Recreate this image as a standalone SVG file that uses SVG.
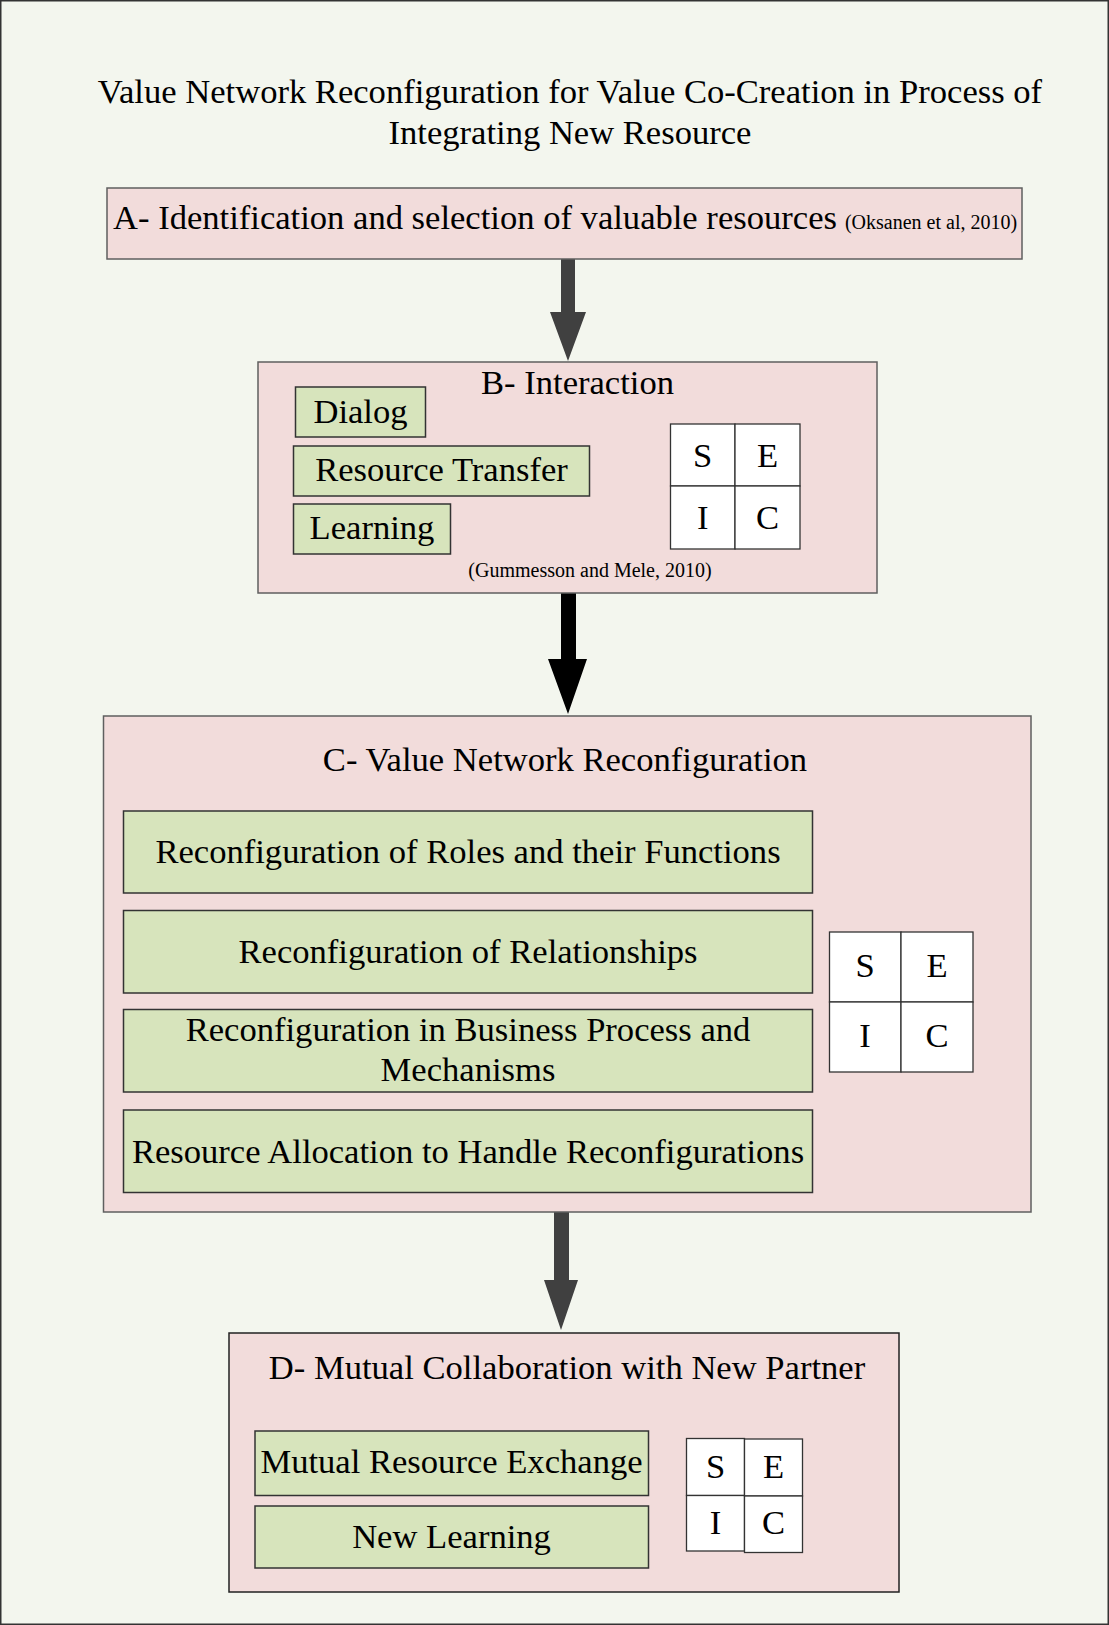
<svg xmlns="http://www.w3.org/2000/svg" width="1109" height="1625" viewBox="0 0 1109 1625">
<style>
text{font-family:"Liberation Serif","Times New Roman",serif;fill:#000}
.t{font-size:34.6px;text-anchor:middle}
.pink{fill:#f2dcdb;stroke:#5f5f5f;stroke-width:1.5}
.pinkd{fill:#f2dcdb;stroke:#222;stroke-width:1.5}
.green{fill:#d7e4bc;stroke:#333;stroke-width:1.5}
.cell{fill:#fff;stroke:#333;stroke-width:1.3}
</style>
<rect x="0.75" y="0.75" width="1107.5" height="1623.5" fill="#f3f6ee" stroke="#333" stroke-width="1.5"/>
<g id="title">
<text class="t" x="570" y="103">Value Network Reconfiguration for Value Co-Creation in Process of</text>
<text class="t" x="570" y="144">Integrating New Resource</text>
</g>
<g id="connectors">
<polygon points="561,259 575,259 575,312 586,312 568,361 550,312 561,312" fill="#404040"/>
<polygon points="561,593 576,593 576,659 587,659 568,714 548,659 561,659" fill="#000"/>
<polygon points="554,1212 569,1212 569,1280 578,1280 561,1330 544,1280 554,1280" fill="#404040"/>
</g>
<g id="nodeA">
<rect class="pink" x="107" y="188" width="915" height="71"/>
<text x="113" y="229"><tspan font-size="34.6">A- Identification and selection of valuable resources</tspan><tspan font-size="20" dx="8">(Oksanen et al, 2010)</tspan></text>
</g>
<g id="nodeB">
<rect class="pink" x="258" y="362" width="619" height="231"/>
<text class="t" x="577.5" y="394">B- Interaction</text>
<rect class="green" x="295.5" y="387" width="130" height="50"/>
<text class="t" x="360.5" y="423">Dialog</text>
<rect class="green" x="293.5" y="446" width="296" height="50"/>
<text class="t" x="441.5" y="481">Resource Transfer</text>
<rect class="green" x="293.5" y="504" width="157" height="50"/>
<text class="t" x="372" y="539">Learning</text>
<g id="seicB">
<rect class="cell" x="670.5" y="424" width="64.5" height="62"/>
<rect class="cell" x="735" y="424" width="65" height="62"/>
<rect class="cell" x="670.5" y="486" width="64.5" height="63"/>
<rect class="cell" x="735" y="486" width="65" height="63"/>
<text class="t" x="702.7" y="467">S</text>
<text class="t" x="767.5" y="467">E</text>
<text class="t" x="702.7" y="529">I</text>
<text class="t" x="767.5" y="529">C</text>
</g>
<text x="590" y="577" font-size="20" text-anchor="middle">(Gummesson and Mele, 2010)</text>
</g>
<g id="nodeC">
<rect class="pink" x="103.5" y="716" width="927.5" height="496"/>
<text class="t" x="565" y="771">C- Value Network Reconfiguration</text>
<rect class="green" x="123.5" y="811" width="689" height="82"/>
<text class="t" x="468" y="863">Reconfiguration of Roles and their Functions</text>
<rect class="green" x="123.5" y="910.5" width="689" height="82.5"/>
<text class="t" x="468" y="963">Reconfiguration of Relationships</text>
<rect class="green" x="123.5" y="1009.5" width="689" height="82.5"/>
<text class="t" x="468" y="1041">Reconfiguration in Business Process and</text>
<text class="t" x="468" y="1081">Mechanisms</text>
<rect class="green" x="123.5" y="1110" width="689" height="82.5"/>
<text class="t" x="468" y="1163">Resource Allocation to Handle Reconfigurations</text>
<g id="seicC">
<rect class="cell" x="829.5" y="932" width="71.5" height="70"/>
<rect class="cell" x="901" y="932" width="72" height="70"/>
<rect class="cell" x="829.5" y="1002" width="71.5" height="70"/>
<rect class="cell" x="901" y="1002" width="72" height="70"/>
<text class="t" x="865" y="977">S</text>
<text class="t" x="937" y="977">E</text>
<text class="t" x="865" y="1047">I</text>
<text class="t" x="937" y="1047">C</text>
</g>
</g>
<g id="nodeD">
<rect class="pinkd" x="229" y="1333" width="670" height="259"/>
<text class="t" x="567" y="1379">D- Mutual Collaboration with New Partner</text>
<rect class="green" x="255" y="1431" width="393.5" height="64.5"/>
<text class="t" x="451.5" y="1473">Mutual Resource Exchange</text>
<rect class="green" x="255" y="1506" width="393.5" height="62"/>
<text class="t" x="451.5" y="1548">New Learning</text>
<g id="seicD">
<rect class="cell" x="686.5" y="1438.5" width="58" height="57"/>
<rect class="cell" x="686.5" y="1495.5" width="58" height="55.5"/>
<rect class="cell" x="744.5" y="1439" width="58" height="57"/>
<rect class="cell" x="744.5" y="1496" width="58" height="56.5"/>
<text class="t" x="715.5" y="1478">S</text>
<text class="t" x="773.5" y="1478">E</text>
<text class="t" x="715.5" y="1534">I</text>
<text class="t" x="773.5" y="1534">C</text>
</g>
</g>
</svg>
